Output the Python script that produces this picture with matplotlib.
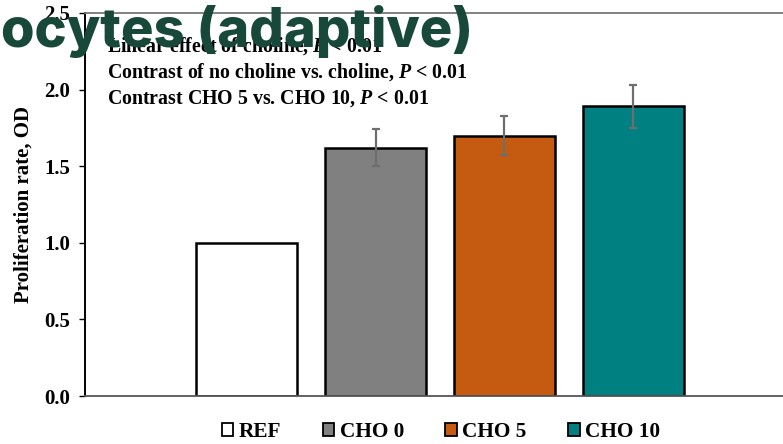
import matplotlib
matplotlib.use("Agg")
import matplotlib.pyplot as plt
from matplotlib.patches import Patch

plt.rcParams.update({
    "font.family": "Liberation Serif", "font.weight": "bold",
    "axes.labelweight": "bold",
    "mathtext.fontset": "custom",
    "mathtext.rm": "Liberation Serif:bold",
    "mathtext.it": "Liberation Serif:italic:bold",
})

# data
groups = ["REF", "CHO 0", "CHO 5", "CHO 10"]
values = [1.00, 1.62, 1.70, 1.89]
errors = [None, 0.12, 0.13, 0.14]
colors = ["#FFFFFF", "#808080", "#C55A11", "#008080"]
stats = ["Linear effect of choline, $P$ < 0.01",
         "Contrast of no choline vs. choline, $P$ < 0.01",
         "Contrast CHO 5 vs. CHO 10, $P$ < 0.01"]
title = "ocytes (adaptive)"

W, H = 783, 444
fig = plt.figure(figsize=(W / 100, H / 100), dpi=100)
ax = fig.add_axes([85 / W, (H - 396) / H, 1 - 85 / W, 383 / H])

xs = list(range(len(groups)))
ax.bar(xs, values, width=0.785, color=colors, edgecolor="black", linewidth=1.8, zorder=2)
ex = [x for x, e in zip(xs, errors) if e is not None]
ey = [v for v, e in zip(values, errors) if e is not None]
ee = [e for e in errors if e is not None]
ax.errorbar(ex, ey, yerr=ee, fmt="none", ecolor="#6e6e6e", elinewidth=1.6, capsize=3,
            capthick=1.6, zorder=3)

ax.set_xlim(-1.252, 4.159)
ax.set_ylim(0, 2.5)
ax.set_yticks([0, 0.5, 1.0, 1.5, 2.0, 2.5])
ax.set_yticklabels([f"{t:.1f}" for t in [0, 0.5, 1.0, 1.5, 2.0, 2.5]], fontsize=15)
ax.set_xticks([])
ax.tick_params(axis="y", direction="out", length=4.5, width=1.0, pad=6)
ax.spines["right"].set_visible(False)
ax.spines["left"].set_linewidth(1.4)
ax.spines["top"].set_color("#777777")
ax.spines["top"].set_linewidth(1.3)
ax.spines["bottom"].set_color("#555555")
ax.spines["bottom"].set_linewidth(1.3)
ax.set_ylabel("Proliferation rate, OD", fontsize=15)
ax.yaxis.set_label_coords(-0.074, 0.5)

for i, s in enumerate(stats):
    fig.text(107 / W, 1 - (52 + 26 * i) / H, s, fontsize=14.3, va="baseline", ha="left")

handles = [Patch(facecolor=c, edgecolor="black", linewidth=1.3) for c in colors]
fig.legend(handles, groups, loc="center", bbox_to_anchor=(441 / W, 1 - 432 / H), ncol=4,
           frameon=False, fontsize=15.3, handlelength=0.55, handleheight=0.55,
           handletextpad=0.25, columnspacing=1.95)

t = fig.text(1 / W, 1 - 47 / H, title, fontsize=40, color="#17483a", va="baseline",
             ha="left", family=["Inter", "DejaVu Sans"], weight="heavy", zorder=10)
fig.canvas.draw()
bb = t.get_window_extent()
t.set_fontsize(40 * 472 / bb.width)

fig.savefig("out.png", dpi=100)
